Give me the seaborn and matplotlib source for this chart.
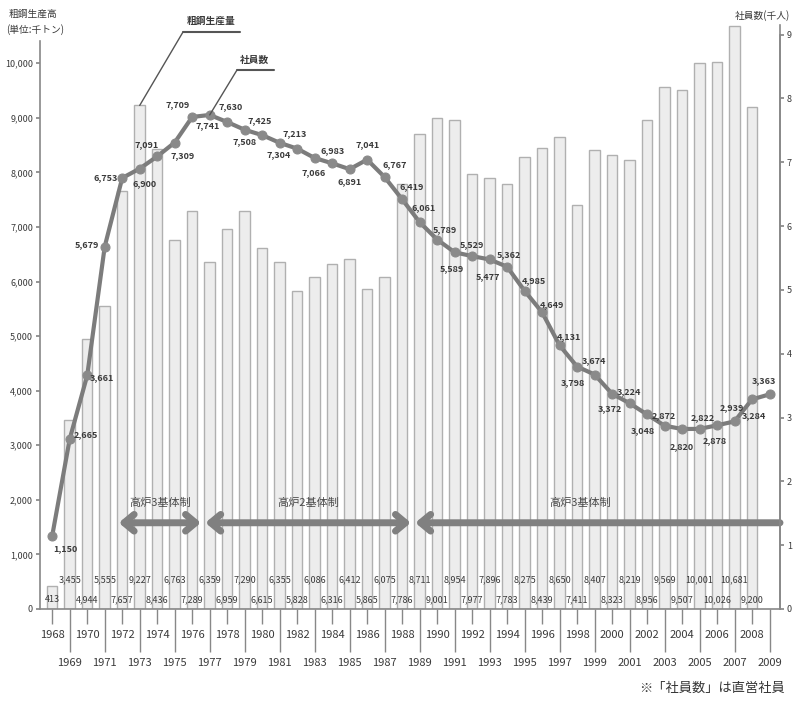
import seaborn as sns
import matplotlib.pyplot as plt
import pandas as pd
from matplotlib.lines import Line2D
from matplotlib.patches import ArrowStyle

# 粗鋼生産高（千トン）1968-2008
bar_years = list(range(1968, 2009))
steel = [413, 3455, 4944, 5555, 7657, 9227, 8436, 6763, 7289, 6359,
         6959, 7290, 6615, 6355, 5828, 6086, 6316, 6412, 5865, 6075,
         7786, 8711, 9001, 8954, 7977, 7896, 7783, 8275, 8439, 8650,
         7411, 8407, 8323, 8219, 8956, 9569, 9507, 10001, 10026, 10681,
         9200]

# 社員数（人）1968-2009
emp_years = list(range(1968, 2010))
employees = [1150, 2665, 3661, 5679, 6753, 6900, 7091, 7309, 7709, 7741,
             7630, 7508, 7425, 7304, 7213, 7066, 6983, 6891, 7041, 6767,
             6419, 6061, 5789, 5589, 5529, 5477, 5362, 4985, 4649, 4131,
             3798, 3674, 3372, 3224, 3048, 2872, 2820, 2822, 2878, 2939,
             3284, 3363]

# 体制（開始, 終了, ラベル）
regimes = [(1971.8, 1976.5, '高炉3基体制'),
           (1976.75, 1988.5, '高炉2基体制'),
           (1988.75, 2009.6, '高炉3基体制')]

# 社員数ラベルの位置ずらし（ピクセル）
emp_offsets = [(13, -13), (16, 4), (15, -2), (-18, 2), (-17, 0), (5, -15),
               (-11, 12), (8, -13), (-15, 12), (-2, -11), (3, 15), (0, -12),
               (-2, 14), (-1, -12), (-2, 15), (-1, -15), (0, 13), (0, -12),
               (0, 15), (10, 12), (10, 13), (4, 15), (8, 10), (-3, -16),
               (0, 12), (-2, -17), (2, 12), (9, 10), (10, 8), (9, 9),
               (-4, -16), (-1, 14), (-2, -15), (-1, 12), (-4, -16), (-1, 10),
               (0, -18), (3, 11), (-2, -15), (-3, 14), (2, -16), (-6, 14)]

sns.set_theme(style='white')
plt.rcParams['font.family'] = ['Noto Sans CJK JP', 'DejaVu Sans']

W, H = 793, 704
fig = plt.figure(figsize=(W / 100, H / 100), dpi=100)
ax = fig.add_axes([40 / W, 95 / H, 740 / W, 584 / H])


def fx(px):
    return px / W


def fy(py):
    return 1 - py / H


txt = '#3a3a3a'
df = pd.DataFrame({'year': bar_years, 'steel': steel})
sns.barplot(data=df, x='year', y='steel', native_scale=True, width=0.6,
            color='#ededed', edgecolor='#b0b0b0', linewidth=1,
            saturation=1, ax=ax)

ax.set_xlim(1967.3, 2009.6)
ax.set_ylim(0, 10700)
ax.set_xlabel('')
ax.set_ylabel('')
ax.set_yticks(range(0, 10001, 1000))
ax.set_yticklabels(['0'] + [f'{v:,}' for v in range(1000, 10001, 1000)])
ax.tick_params(axis='y', labelsize=6.5, colors=txt, length=3, pad=2, left=True)

even = [y for y in range(1968, 2010) if y % 2 == 0]
odd = [y for y in range(1968, 2010) if y % 2 == 1]
ax.set_xticks(even, labels=[str(y) for y in even])
ax.set_xticks(odd, labels=[str(y) for y in odd], minor=True)
ax.tick_params(axis='x', which='major', length=11, pad=4, labelsize=8,
               colors=txt, bottom=True, width=1)
ax.tick_params(axis='x', which='minor', length=31, pad=4, labelsize=8,
               colors=txt, bottom=True, width=1)
ax.tick_params(axis='x', which='both', color='#888888')
ax.tick_params(axis='y', color='#888888')

ax.spines['top'].set_visible(False)
for s in ['left', 'bottom', 'right']:
    ax.spines[s].set_color('#888888')
    ax.spines[s].set_linewidth(1.2)
ax.spines['left'].set_bounds(0, 10400)

# 生産高の数値
for i, (yr, v) in enumerate(zip(bar_years, steel)):
    ax.text(yr, 530 if i % 2 else 165, f'{v:,}', ha='center', va='center',
            fontsize=6.5, color=txt)

# 体制の矢印
for x0, x1, lab in regimes:
    style = '<->' if x1 < 2009 else '<-'
    ax.annotate('', xy=(x1, 1580), xytext=(x0, 1580),
                arrowprops=dict(arrowstyle=ArrowStyle(style, head_length=0.6,
                                                      head_width=0.5),
                                color='#808080', lw=5,
                                shrinkA=0, shrinkB=0))
    mid = (x0 + x1) / 2 if x1 < 2009 else 1998.2
    ax.text(mid, 1950, lab, ha='center', va='center', fontsize=8,
            color='#4a4a4a')

# 社員数（第2軸）
ax2 = ax.twinx()
edf = pd.DataFrame({'year': emp_years, 'emp': [e / 1000 for e in employees]})
sns.lineplot(data=edf, x='year', y='emp', ax=ax2, color='#7c7c7c',
             linewidth=3, marker='o', markersize=6.5,
             markerfacecolor='#8a8a8a', markeredgecolor='#8a8a8a')
ax2.set_ylim(0, 9.15)
ax2.set_xlim(1967.3, 2009.6)
ax2.set_ylabel('')
ax2.set_xlabel('')
ax2.set_yticks(range(0, 10))
ax2.tick_params(axis='y', labelsize=6.5, colors=txt, length=3, pad=2,
                right=True, color='#888888')
ax2.spines['top'].set_visible(False)
ax2.spines['right'].set_color('#888888')
ax2.spines['right'].set_linewidth(1.2)
ax2.spines['right'].set_bounds(0, 9)
ax2.spines['left'].set_visible(False)
ax2.spines['bottom'].set_visible(False)

for yr, e, (dx, dy) in zip(emp_years, employees, emp_offsets):
    ax2.annotate(f'{e:,}', xy=(yr, e / 1000), xytext=(dx, dy),
                 textcoords='offset pixels', ha='center', va='center',
                 fontsize=6.5, fontweight='bold', color=txt)

# 引き出し線
ax.annotate('', xy=(1973, 9227), xytext=(fx(183), fy(32)),
            textcoords='figure fraction',
            arrowprops=dict(arrowstyle='-', color='#555555', lw=1,
                            shrinkA=0, shrinkB=0))
fig.add_artist(Line2D([fx(183), fx(240)], [fy(32), fy(32)],
                      transform=fig.transFigure, color='#555555', lw=1.5))
fig.text(fx(211), fy(21), '粗鋼生産量', ha='center', va='center',
         fontsize=7, fontweight='bold', color=txt)

ax2.annotate('', xy=(1977, 7.741), xytext=(fx(237), fy(70)),
             textcoords='figure fraction',
             arrowprops=dict(arrowstyle='-', color='#555555', lw=1,
                             shrinkA=0, shrinkB=0))
fig.add_artist(Line2D([fx(237), fx(274)], [fy(70), fy(70)],
                      transform=fig.transFigure, color='#555555', lw=1.5))
fig.text(fx(255), fy(60), '社員数', ha='center', va='center',
         fontsize=7, fontweight='bold', color=txt)

# 軸タイトル
fig.text(fx(33), fy(14), '粗鋼生産高', ha='center', va='center',
         fontsize=7, color=txt)
fig.text(fx(35), fy(30), '(単位:千トン)', ha='center', va='center',
         fontsize=7, color=txt)
fig.text(fx(762), fy(16), '社員数(千人)', ha='center', va='center',
         fontsize=7, color=txt)

fig.text(fx(785), fy(688), '※「社員数」は直営社員', ha='right', va='center',
         fontsize=9.5, color='#333333')

fig.savefig('out.png', dpi=100)
